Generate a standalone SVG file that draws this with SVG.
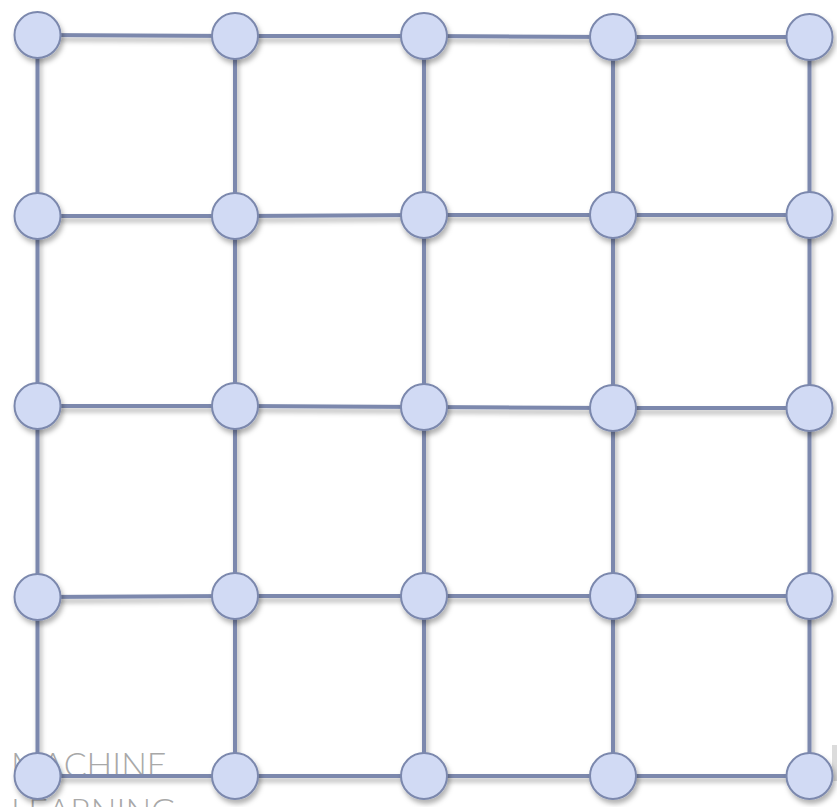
<svg xmlns="http://www.w3.org/2000/svg" width="837" height="807" viewBox="0 0 837 807">
  <defs>
    <filter id="sh" x="-30%" y="-30%" width="160%" height="160%">
      <feDropShadow dx="2" dy="4" stdDeviation="2.5" flood-color="#000" flood-opacity="0.3"/>
    </filter>
    <style>
      .edge { stroke: #7b88ad; stroke-width: 4; fill: none; }
      .node { fill: #d1daf4; stroke: #7b88ad; stroke-width: 2; }
      .lbl { font-family: Lato, "Open Sans", "Liberation Sans", sans-serif; font-weight: 300; font-size: 34px; fill: #a8a8a8; }
    </style>
  </defs>
  <rect width="837" height="807" fill="#ffffff"/>
  <rect x="832" y="745" width="5" height="36" fill="#dcdcdc"/>
  <text class="lbl" x="11" y="777">MACHINE</text>
  <text class="lbl" x="11" y="823">LEARNING</text>
  <g id="connectors" filter="url(#sh)">
    <!-- horizontal -->
    <line class="edge" x1="37.5" y1="35" x2="235" y2="36"/>
    <line class="edge" x1="235" y1="36" x2="424" y2="36"/>
    <line class="edge" x1="424" y1="36" x2="613" y2="37"/>
    <line class="edge" x1="613" y1="37" x2="809.5" y2="37"/>
    <line class="edge" x1="37.5" y1="216" x2="235" y2="216"/>
    <line class="edge" x1="235" y1="216" x2="424" y2="215"/>
    <line class="edge" x1="424" y1="215" x2="613" y2="215"/>
    <line class="edge" x1="613" y1="215" x2="809.5" y2="215"/>
    <line class="edge" x1="37.5" y1="406" x2="235" y2="406"/>
    <line class="edge" x1="235" y1="406" x2="424" y2="407"/>
    <line class="edge" x1="424" y1="407" x2="613" y2="408"/>
    <line class="edge" x1="613" y1="408" x2="809.5" y2="408"/>
    <line class="edge" x1="37.5" y1="597" x2="235" y2="596"/>
    <line class="edge" x1="235" y1="596" x2="424" y2="596"/>
    <line class="edge" x1="424" y1="596" x2="613" y2="596"/>
    <line class="edge" x1="613" y1="596" x2="809.5" y2="596"/>
    <line class="edge" x1="37.5" y1="776" x2="235" y2="776"/>
    <line class="edge" x1="235" y1="776" x2="424" y2="776"/>
    <line class="edge" x1="424" y1="776" x2="613" y2="776"/>
    <line class="edge" x1="613" y1="776" x2="809.5" y2="776"/>
    <!-- vertical -->
    <line class="edge" x1="37.5" y1="35" x2="37.5" y2="216"/>
    <line class="edge" x1="37.5" y1="216" x2="37.5" y2="406"/>
    <line class="edge" x1="37.5" y1="406" x2="37.5" y2="597"/>
    <line class="edge" x1="37.5" y1="597" x2="37.5" y2="776"/>
    <line class="edge" x1="235" y1="36" x2="235" y2="216"/>
    <line class="edge" x1="235" y1="216" x2="235" y2="406"/>
    <line class="edge" x1="235" y1="406" x2="235" y2="596"/>
    <line class="edge" x1="235" y1="596" x2="235" y2="776"/>
    <line class="edge" x1="424" y1="36" x2="424" y2="215"/>
    <line class="edge" x1="424" y1="215" x2="424" y2="407"/>
    <line class="edge" x1="424" y1="407" x2="424" y2="596"/>
    <line class="edge" x1="424" y1="596" x2="424" y2="776"/>
    <line class="edge" x1="613" y1="37" x2="613" y2="215"/>
    <line class="edge" x1="613" y1="215" x2="613" y2="408"/>
    <line class="edge" x1="613" y1="408" x2="613" y2="596"/>
    <line class="edge" x1="613" y1="596" x2="613" y2="776"/>
    <line class="edge" x1="809.5" y1="37" x2="809.5" y2="215"/>
    <line class="edge" x1="809.5" y1="215" x2="809.5" y2="408"/>
    <line class="edge" x1="809.5" y1="408" x2="809.5" y2="596"/>
    <line class="edge" x1="809.5" y1="596" x2="809.5" y2="776"/>
  </g>
  <g filter="url(#sh)">
    <g id="n00"><circle class="node" cx="37.5" cy="35" r="23"/></g>
    <g id="n01"><circle class="node" cx="235" cy="36" r="23"/></g>
    <g id="n02"><circle class="node" cx="424" cy="36" r="23"/></g>
    <g id="n03"><circle class="node" cx="613" cy="37" r="23"/></g>
    <g id="n04"><circle class="node" cx="809.5" cy="37" r="23"/></g>
    <g id="n10"><circle class="node" cx="37.5" cy="216" r="23"/></g>
    <g id="n11"><circle class="node" cx="235" cy="216" r="23"/></g>
    <g id="n12"><circle class="node" cx="424" cy="215" r="23"/></g>
    <g id="n13"><circle class="node" cx="613" cy="215" r="23"/></g>
    <g id="n14"><circle class="node" cx="809.5" cy="215" r="23"/></g>
    <g id="n20"><circle class="node" cx="37.5" cy="406" r="23"/></g>
    <g id="n21"><circle class="node" cx="235" cy="406" r="23"/></g>
    <g id="n22"><circle class="node" cx="424" cy="407" r="23"/></g>
    <g id="n23"><circle class="node" cx="613" cy="408" r="23"/></g>
    <g id="n24"><circle class="node" cx="809.5" cy="408" r="23"/></g>
    <g id="n30"><circle class="node" cx="37.5" cy="597" r="23"/></g>
    <g id="n31"><circle class="node" cx="235" cy="596" r="23"/></g>
    <g id="n32"><circle class="node" cx="424" cy="596" r="23"/></g>
    <g id="n33"><circle class="node" cx="613" cy="596" r="23"/></g>
    <g id="n34"><circle class="node" cx="809.5" cy="596" r="23"/></g>
    <g id="n40"><circle class="node" cx="37.5" cy="776" r="23"/></g>
    <g id="n41"><circle class="node" cx="235" cy="776" r="23"/></g>
    <g id="n42"><circle class="node" cx="424" cy="776" r="23"/></g>
    <g id="n43"><circle class="node" cx="613" cy="776" r="23"/></g>
    <g id="n44"><circle class="node" cx="809.5" cy="776" r="23"/></g>
  </g>
</svg>
